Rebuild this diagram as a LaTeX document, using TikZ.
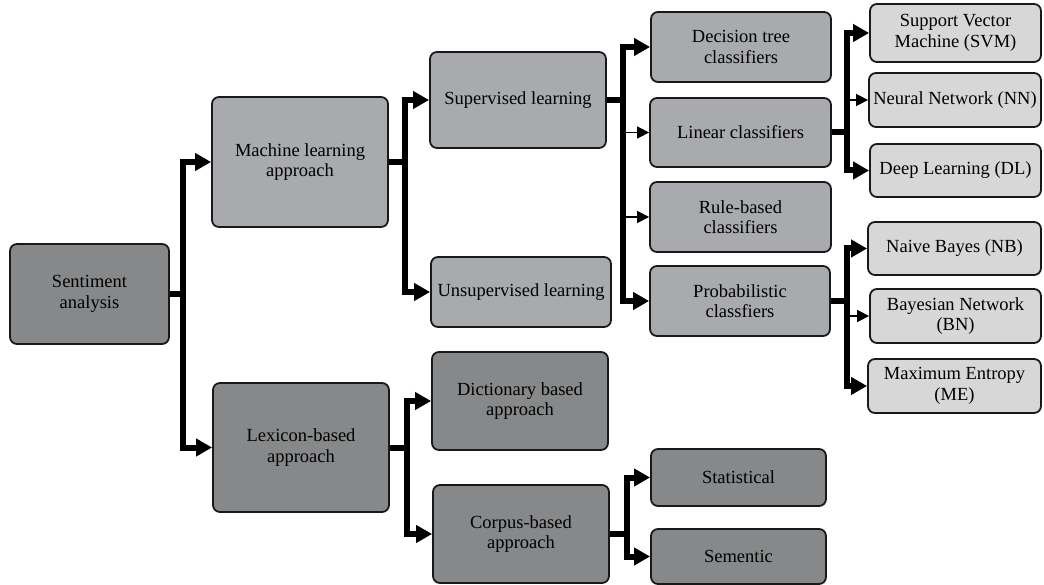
\documentclass[tikz,border=0pt]{standalone}
\usepackage{fontspec}
\setmainfont{Liberation Serif}
\usetikzlibrary{arrows.meta}
\definecolor{boxdark}{HTML}{87888A}
\definecolor{boxmid}{HTML}{A9AAAD}
\definecolor{boxlight}{HTML}{D7D7D8}

\begin{document}
\begin{tikzpicture}[x=1pt, y=-1pt,
  box/.style={draw=black!90, line width=1.8pt, rounded corners=7pt, align=center,
    inner sep=2pt, font=\fontsize{18.5}{20.5}\selectfont},
  dark/.style={box, fill=boxdark},
  mid/.style={box, fill=boxmid},
  light/.style={box, fill=boxlight},
  bus/.style={line width=6pt, -{Triangle[length=16pt,width=17pt]}},
  twig/.style={line width=1.5pt, -{Triangle[length=12pt,width=12pt]}},
]
\useasboundingbox (0,0) rectangle (1044,585);

% root and approaches
\node[dark, minimum width=159pt, minimum height=100pt] (sa) at (89.5,294) {Sentiment\\analysis};
\node[mid, minimum width=176pt, minimum height=130pt] (ml) at (300,162) {Machine learning\\approach};
\node[dark, minimum width=176pt, minimum height=129pt] (lex) at (301,447.5) {Lexicon-based\\approach};

% machine learning branch
\node[mid, minimum width=176pt, minimum height=96pt] (sup) at (518,100) {Supervised learning};
\node[mid, minimum width=180pt, minimum height=70pt] (uns) at (521,292) {Unsupervised learning};
\node[mid, minimum width=180pt, minimum height=70pt] (dt) at (741,47) {Decision tree\\classifiers};
\node[mid, minimum width=181pt, minimum height=69pt] (lin) at (740.5,132.5) {Linear classifiers};
\node[mid, minimum width=181pt, minimum height=70pt] (rule) at (740.5,217) {Rule-based\\classifiers};
\node[mid, minimum width=180pt, minimum height=70pt] (prob) at (740,301) {Probabilistic\\classfiers};
\node[light, minimum width=171pt, minimum height=58pt] (svm) at (955.5,33) {Support Vector\\Machine (SVM)};
\node[light, minimum width=172pt, minimum height=54pt] (nn) at (955,100) {Neural Network (NN)};
\node[light, minimum width=171pt, minimum height=53pt] (dl) at (955.5,170.5) {Deep Learning (DL)};
\node[light, minimum width=173pt, minimum height=53pt] (nb) at (954.5,248.5) {Naive Bayes (NB)};
\node[light, minimum width=171pt, minimum height=54pt] (bn) at (955.5,316) {Bayesian Network\\(BN)};
\node[light, minimum width=173pt, minimum height=54pt] (me) at (954.5,386) {Maximum Entropy\\(ME)};

% lexicon branch
\node[dark, minimum width=176pt, minimum height=98pt] (dic) at (520,401) {Dictionary based\\approach};
\node[dark, minimum width=176pt, minimum height=98pt] (cor) at (521,534) {Corpus-based\\approach};
\node[dark, minimum width=175pt, minimum height=57pt] (stat) at (738.5,477.5) {Statistical};
\node[dark, minimum width=175pt, minimum height=55pt] (sem) at (738.5,556.5) {Sementic};

% bus lines
\coordinate (b1) at (183,0);
\coordinate (b2) at (405,0);
\coordinate (b3) at (623,0);
\coordinate (b4) at (847,0);
\coordinate (b5) at (407,0);
\coordinate (b6) at (627,0);

\draw[bus] (sa.east) -| (b1 |- ml.west) -- (ml.west);
\draw[bus] (sa.east) -| (b1 |- lex.west) -- (lex.west);

\draw[bus] (ml.east) -| (b2 |- sup.west) -- (sup.west);
\draw[bus] (ml.east) -| (b2 |- uns.west) -- (uns.west);

\draw[bus] (sup.east) -| (b3 |- dt.west) -- (dt.west);
\draw[bus] (sup.east) -| (b3 |- prob.west) -- (prob.west);
\draw[twig] (b3 |- lin.west) -- (lin.west);
\draw[twig] (b3 |- rule.west) -- (rule.west);

\draw[bus] (lin.east) -| (b4 |- svm.west) -- (svm.west);
\draw[bus] (lin.east) -| (b4 |- dl.west) -- (dl.west);
\draw[twig] (b4 |- nn.west) -- (nn.west);

\draw[bus] (prob.east) -| (b4 |- nb.west) -- (nb.west);
\draw[bus] (prob.east) -| (b4 |- me.west) -- (me.west);
\draw[twig] (b4 |- bn.west) -- (bn.west);

\draw[bus] (lex.east) -| (b5 |- dic.west) -- (dic.west);
\draw[bus] (lex.east) -| (b5 |- cor.west) -- (cor.west);

\draw[bus] (cor.east) -| (b6 |- stat.west) -- (stat.west);
\draw[bus] (cor.east) -| (b6 |- sem.west) -- (sem.west);
\end{tikzpicture}
\end{document}
